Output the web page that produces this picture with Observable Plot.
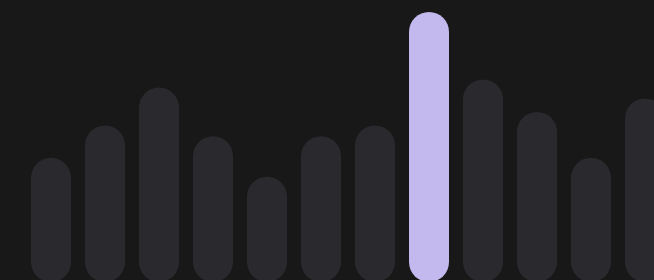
<!DOCTYPE html>
<html><head><meta charset="utf-8">
<script src="https://cdn.jsdelivr.net/npm/d3@7"></script>
<script src="https://cdn.jsdelivr.net/npm/@observablehq/plot@0.6"></script>
<style>html,body{margin:0;padding:0;background:#181818;overflow:hidden;width:654px;height:280px}</style>
</head><body><div id="chart"></div>
<script>
const categories = ["1","2","3","4","5","6","7","8","9","10","11","12"];
const values = [46, 58, 72, 54, 39, 54, 58, 100, 75, 63, 46, 68];
const highlighted = "8";
const data = categories.map((c, i) => ({category: c, value: values[i]}));
const chart = Plot.plot({
  width: 654, height: 280,
  marginLeft: 24, marginRight: -18, marginTop: 12, marginBottom: -2,
  x: {domain: categories, paddingInner: 0.26, paddingOuter: 0.13, axis: null},
  y: {domain: [0, 100], axis: null},
  style: {background: "#181818"},
  marks: [
    Plot.barY(data, {x: "category", y: "value", fill: d => d.category === highlighted ? "#c3b9ee" : "#2a292d", rx: 20})
  ]
});
document.getElementById("chart").append(chart);
</script></body></html>
